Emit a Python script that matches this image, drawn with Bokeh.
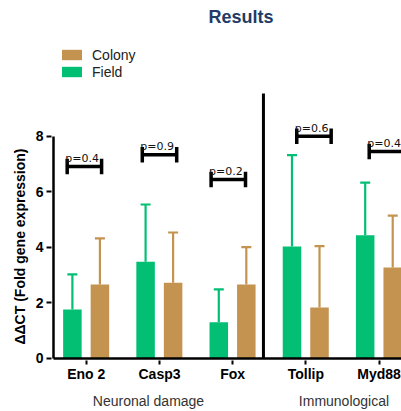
import numpy as np
from bokeh.plotting import figure
from bokeh.models import (Range1d, FixedTicker, Whisker, TeeHead, ColumnDataSource,
                          Legend, LegendItem, Label, LinearAxis, Title)
from bokeh.core.properties import value
from bokeh.embed import file_html
from bokeh.resources import INLINE

# ---- data ----
genes = ["Eno 2", "Casp3", "Fox", "Tollip", "Myd88"]
field_mean = [1.77, 3.49, 1.31, 4.04, 4.44]
field_err = [1.26, 2.06, 1.18, 3.29, 1.90]
colony_mean = [2.67, 2.73, 2.67, 1.84, 3.28]
colony_err = [1.66, 1.81, 1.34, 2.21, 1.87]
p_labels = ["p=0.4", "p=0.9", "p=0.2", "p=0.6", "p=0.4"]
bracket_y = [6.92, 7.34, 6.45, 8.01, 7.46]
bracket_shift = [-0.026, 0.0, -0.06, 0.11, 0.10]
groups = ["Neuronal damage", "Immunological"]
group_pos = [0.85, 3.52]
y_ticks = [0, 2, 4, 6, 8]

GREEN = "#03BF74"
TAN = "#C49350"

X0 = -0.448          # x position of the y axis line
X1 = 4.306
idx = np.arange(len(genes))
fx = idx - 0.19
cx = idx + 0.186
bw = 0.253

fsrc = ColumnDataSource(dict(x=fx, top=field_mean,
                             up=np.array(field_mean) + np.array(field_err)))
csrc = ColumnDataSource(dict(x=cx, top=colony_mean,
                             up=np.array(colony_mean) + np.array(colony_err)))

p = figure(width=401, height=411, output_backend="svg", toolbar_location=None,
           x_range=Range1d(X0 - 2 / 73.2, X1), y_range=Range1d(-2 / 27.75, 12.9),
           min_border_left=51, min_border_right=0, min_border_top=0,
           min_border_bottom=51)
p.outline_line_color = None
p.xgrid.grid_line_color = None
p.ygrid.grid_line_color = None
p.background_fill_color = "white"
p.border_fill_color = "white"

# separator
p.segment(x0=[2.42], y0=[0], x1=[2.42], y1=[9.55], line_color="black", line_width=3)

fb = p.vbar(x="x", top="top", width=bw, source=fsrc, fill_color=GREEN, line_color=None)
cb = p.vbar(x="x", top="top", width=bw, source=csrc, fill_color=TAN, line_color=None)

for src, col in ((fsrc, GREEN), (csrc, TAN)):
    w = Whisker(base="x", lower="top", upper="up", source=src, dimension="height",
                line_color=col, line_width=2.2, lower_head=None,
                upper_head=TeeHead(size=10, line_color=col, line_width=2.2))
    p.add_layout(w)

# axis lines (drawn as rules in data space)
p.segment(x0=[X0, X0], y0=[0, 0], x1=[X1, X0], y1=[0, 8],
          line_color="black", line_width=2.5)

# significance brackets
half = 0.235
bx0 = idx + np.array(bracket_shift) - half
bx1 = idx + np.array(bracket_shift) + half
by = np.array(bracket_y)
p.segment(x0=bx0, y0=by, x1=bx1, y1=by, line_color="black", line_width=3.5)
p.segment(x0=np.concatenate([bx0, bx1]), y0=np.concatenate([by - 0.28, by - 0.28]),
          x1=np.concatenate([bx0, bx1]), y1=np.concatenate([by + 0.28, by + 0.28]),
          line_color="black", line_width=3.5)
p.text(x=bx0, y=by, text=p_labels, x_offset=-2, y_offset=-8,
       text_font=value("DejaVu Sans"), text_font_size=value("11px"), text_color="#111111",
       text_baseline="alphabetic", text_align="left")

# axes
p.yaxis.ticker = FixedTicker(ticks=y_ticks)
p.yaxis.axis_line_color = None
p.yaxis.major_tick_line_width = 2
p.yaxis.major_tick_out = 5
p.yaxis.major_tick_in = 0
p.yaxis.minor_tick_line_color = None
p.yaxis.major_label_standoff = 3
p.yaxis.major_label_text_font = "Liberation Sans"
p.yaxis.major_label_text_font_style = "bold"
p.yaxis.major_label_text_font_size = "14px"
p.yaxis.major_label_text_color = "black"

p.xaxis.ticker = FixedTicker(ticks=list(idx))
p.xaxis.major_label_overrides = {int(i): g for i, g in zip(idx, genes)}
p.xaxis.axis_line_color = None
p.xaxis.major_tick_line_width = 2
p.xaxis.major_tick_out = 4
p.xaxis.major_tick_in = 0
p.xaxis.minor_tick_line_color = None
p.xaxis.major_label_standoff = 1
p.xaxis.major_label_text_font = "Liberation Sans"
p.xaxis.major_label_text_font_style = "bold"
p.xaxis.major_label_text_font_size = "14px"
p.xaxis.major_label_text_color = "black"

# group labels as a second, line-less axis
gaxis = LinearAxis(ticker=FixedTicker(ticks=group_pos),
                   major_label_overrides={gp: g for gp, g in zip(group_pos, groups)},
                   axis_line_color=None, major_tick_line_color=None,
                   minor_tick_line_color=None, major_label_standoff=2,
                   major_label_text_font="Liberation Sans",
                   major_label_text_font_size="14px",
                   major_label_text_color="#333333")
p.add_layout(gaxis, "below")

# y-axis title
p.add_layout(Title(text="ΔΔCT (Fold gene expression)", align="left", offset=16,
                   text_font="Liberation Sans", text_font_style="bold",
                   text_font_size="14px", text_color="black", standoff=10), "left")

# chart title
p.add_layout(Label(x=2.113, y=12.32, text="Results", text_align="center",
                   text_baseline="middle", text_font="Liberation Sans",
                   text_font_style="bold", text_font_size="18px", text_color="#1F3B66"))

legend = Legend(items=[LegendItem(label="Colony", renderers=[cb]),
                       LegendItem(label="Field", renderers=[fb])],
                location=(8, 280), padding=0, margin=0, spacing=0,
                glyph_width=25, glyph_height=13, label_height=17, label_standoff=8,
                label_text_font="Liberation Sans", label_text_font_size="14px",
                label_text_color="#222222", border_line_color=None,
                background_fill_alpha=0)
p.add_layout(legend)

open("out.html", "w").write(file_html(p, INLINE))
